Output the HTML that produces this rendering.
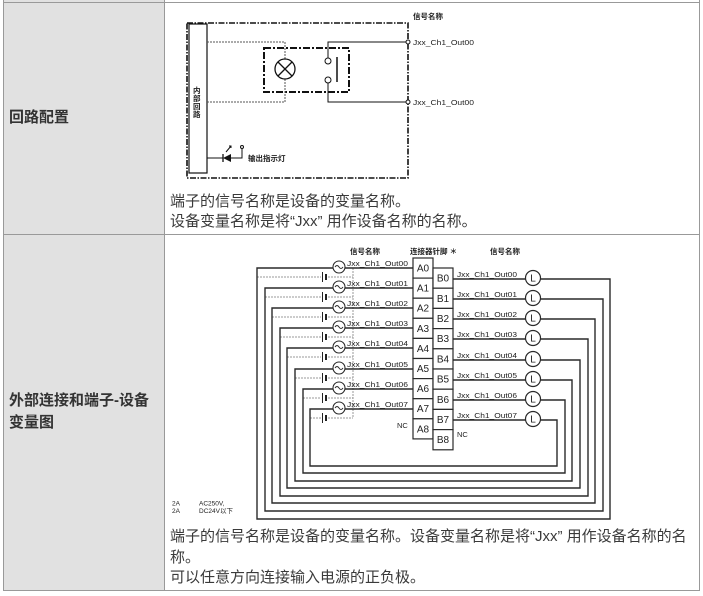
<!DOCTYPE html>
<html><head><meta charset="utf-8">
<style>
html,body{margin:0;padding:0;background:#fff;}
body{width:703px;height:596px;position:relative;overflow:hidden;font-family:"Liberation Sans","Noto Sans CJK SC",sans-serif;color:#333;}
.bg{position:absolute;left:3px;top:0;width:161px;height:590px;background:#e1e1e1;}
.hl{position:absolute;height:1px;background:#999;}
.vl{position:absolute;width:1px;background:#999;}
.t{position:absolute;white-space:nowrap;font-size:15px;line-height:20px;color:#3a3a3a;}
.b{font-weight:bold;color:#333;}
svg{position:absolute;left:0;top:0;}
</style></head><body>
<div class="bg"></div>
<div class="hl" style="left:3px;top:2px;width:697px"></div>
<div class="hl" style="left:3px;top:234px;width:697px"></div>
<div class="hl" style="left:3px;top:590px;width:697px"></div>
<div class="vl" style="left:3px;top:0;height:591px"></div>
<div class="vl" style="left:164px;top:0;height:591px"></div>
<div class="vl" style="left:699px;top:0;height:591px"></div>

<div class="t b" style="left:9px;top:108px;">回路配置</div>
<div class="t b" style="left:9px;top:390px;line-height:22px;">外部连接和端子-设备<br>变量图</div>

<div class="t" style="left:170px;top:192px;">端子的信号名称是设备的变量名称。</div>
<div class="t" style="left:170px;top:212px;">设备变量名称是将“Jxx” 用作设备名称的名称。</div>

<div class="t" style="left:170px;top:527px;">端子的信号名称是设备的变量名称。设备变量名称是将“Jxx” 用作设备名称的名</div>
<div class="t" style="left:170px;top:547.5px;">称。</div>
<div class="t" style="left:170px;top:568px;">可以任意方向连接输入电源的正负极。</div>

<svg width="703" height="596" viewBox="0 0 703 596" xmlns="http://www.w3.org/2000/svg" font-family="'Liberation Sans','Noto Sans CJK SC',sans-serif">
<!-- Diagram 1 -->
<g fill="none" stroke="#111">
  <rect x="187" y="23" width="221" height="155" stroke-width="1.6" stroke-dasharray="6 1.5 1.5 1.5"/>
  <rect x="189" y="24" width="18" height="149" stroke-width="1.2"/>
  <rect x="264" y="48" width="85" height="44" stroke-width="2" stroke-dasharray="7 2 2 2"/>
  <path d="M207 42 H285 V59 M285 79 V102 H207" stroke="#555" stroke-width="1" stroke-dasharray="2 1"/>
  <circle cx="285" cy="69" r="10" stroke-width="1.3"/>
  <path d="M278 62 L292 76 M292 62 L278 76" stroke-width="1.3"/>
  <circle cx="328" cy="61" r="3" stroke-width="1"/>
  <circle cx="328" cy="80" r="3" stroke-width="1"/>
  <path d="M337 57 V82" stroke-width="1.5"/>
  <path d="M328 58 V42 H406 M328 83 V102 H406" stroke-width="1"/>
  <circle cx="408" cy="42" r="2" stroke-width="1" fill="#fff"/>
  <circle cx="408" cy="102" r="2" stroke-width="1" fill="#fff"/>
  <path d="M207 158 H223 M231 158 H242 V149" stroke-width="1"/>
  <path d="M223 154 V162" stroke-width="1.3"/>
  <path d="M226 152 L231 146 M229 146 L231 146 L231 148" stroke-width="1"/>
  <circle cx="242" cy="147" r="1.5" stroke-width="1"/>
</g>
<polygon points="223,158 231,154 231,162" fill="#111"/>
<g font-size="7.5" fill="#222">
  <text x="193" y="93" font-weight="bold">内</text>
  <text x="193" y="101" font-weight="bold">部</text>
  <text x="193" y="109" font-weight="bold">回</text>
  <text x="193" y="117" font-weight="bold">路</text>
  <text x="413" y="19" font-weight="bold" font-size="7.5">信号名称</text>
  <text x="413" y="45" textLength="61" lengthAdjust="spacingAndGlyphs">Jxx_Ch1_Out00</text>
  <text x="413" y="105" textLength="61" lengthAdjust="spacingAndGlyphs">Jxx_Ch1_Out00</text>
  <text x="248" y="161" font-weight="bold">输出指示灯</text>
</g>

<!-- Diagram 2 -->
<g font-size="7.5" fill="#222" font-weight="bold">
  <text x="350" y="254">信号名称</text>
  <text x="410" y="254">连接器针脚 ＊</text>
  <text x="490" y="254">信号名称</text>
</g>
<!-- dotted DC alternative lines -->
<g fill="none" stroke="#999" stroke-width="1" stroke-dasharray="2 1">
  <path d="M353 268 V418"/>
  <path d="M257 277 H321 M328 277 H353"/>
  <path d="M265 297 H321 M328 297 H353"/>
  <path d="M272 317 H321 M328 317 H353"/>
  <path d="M280 337 H321 M328 337 H353"/>
  <path d="M287 357 H321 M328 357 H353"/>
  <path d="M295 378 H321 M328 378 H353"/>
  <path d="M303 398 H321 M328 398 H353"/>
  <path d="M310 418 H321 M328 418 H353"/>
</g>
<g fill="#222">
  <rect x="322" y="272" width="1" height="10"/><rect x="325" y="274" width="2" height="6"/>
  <rect x="322" y="292" width="1" height="10"/><rect x="325" y="294" width="2" height="6"/>
  <rect x="322" y="312" width="1" height="10"/><rect x="325" y="314" width="2" height="6"/>
  <rect x="322" y="332" width="1" height="10"/><rect x="325" y="334" width="2" height="6"/>
  <rect x="322" y="352" width="1" height="10"/><rect x="325" y="354" width="2" height="6"/>
  <rect x="322" y="373" width="1" height="10"/><rect x="325" y="375" width="2" height="6"/>
  <rect x="322" y="393" width="1" height="10"/><rect x="325" y="395" width="2" height="6"/>
  <rect x="322" y="413" width="1" height="10"/><rect x="325" y="415" width="2" height="6"/>
</g>
<!-- wires -->
<g fill="none" stroke="#2a2a2a" stroke-width="1.4">
  <path d="M413 268 H345 M333 268 H257 V519 H610 V279 H540.5 M525.5 279 H453"/>
  <path d="M413 288 H345 M333 288 H265 V511 H603 V299 H540.5 M525.5 299 H453"/>
  <path d="M413 308 H345 M333 308 H272 V503 H595 V319 H540.5 M525.5 319 H453"/>
  <path d="M413 328 H345 M333 328 H280 V496 H588 V339 H540.5 M525.5 339 H453"/>
  <path d="M413 348 H345 M333 348 H287 V488 H580 V360 H540.5 M525.5 360 H453"/>
  <path d="M413 369 H345 M333 369 H295 V481 H572 V380 H540.5 M525.5 380 H453"/>
  <path d="M413 389 H345 M333 389 H303 V473 H565 V400 H540.5 M525.5 400 H453"/>
  <path d="M413 409 H345 M333 409 H310 V466 H557 V420 H540.5 M525.5 420 H453"/>
</g>
<!-- AC source circles -->
<g fill="#fff" stroke="#2a2a2a" stroke-width="1.1">
  <circle cx="339" cy="267" r="6"/><circle cx="339" cy="287" r="6"/><circle cx="339" cy="307" r="6"/><circle cx="339" cy="327" r="6"/>
  <circle cx="339" cy="347" r="6"/><circle cx="339" cy="368" r="6"/><circle cx="339" cy="388" r="6"/><circle cx="339" cy="408" r="6"/>
</g>
<g fill="none" stroke="#2a2a2a" stroke-width="1">
  <path d="M335 267 q2 -3 4 0 t4 0"/><path d="M335 287 q2 -3 4 0 t4 0"/><path d="M335 307 q2 -3 4 0 t4 0"/><path d="M335 327 q2 -3 4 0 t4 0"/>
  <path d="M335 347 q2 -3 4 0 t4 0"/><path d="M335 368 q2 -3 4 0 t4 0"/><path d="M335 388 q2 -3 4 0 t4 0"/><path d="M335 408 q2 -3 4 0 t4 0"/>
</g>
<!-- L circles -->
<g fill="#fff" stroke="#2a2a2a" stroke-width="1.2">
  <circle cx="533" cy="278" r="7.5"/><circle cx="533" cy="298" r="7.5"/><circle cx="533" cy="318" r="7.5"/><circle cx="533" cy="338" r="7.5"/>
  <circle cx="533" cy="359" r="7.5"/><circle cx="533" cy="379" r="7.5"/><circle cx="533" cy="399" r="7.5"/><circle cx="533" cy="419" r="7.5"/>
</g>
<g font-size="10" fill="#222" text-anchor="middle">
  <text x="533" y="281.5">L</text><text x="533" y="301.5">L</text><text x="533" y="321.5">L</text><text x="533" y="341.5">L</text>
  <text x="533" y="362.5">L</text><text x="533" y="382.5">L</text><text x="533" y="402.5">L</text><text x="533" y="422.5">L</text>
</g>
<!-- connector boxes -->
<g fill="#fff" stroke="#2a2a2a" stroke-width="1.2">
  <rect x="413" y="258" width="20" height="20.1"/><rect x="413" y="278.1" width="20" height="20.1"/><rect x="413" y="298.2" width="20" height="20.1"/>
  <rect x="413" y="318.3" width="20" height="20.1"/><rect x="413" y="338.4" width="20" height="20.1"/><rect x="413" y="358.5" width="20" height="20.1"/>
  <rect x="413" y="378.6" width="20" height="20.1"/><rect x="413" y="398.7" width="20" height="20.1"/><rect x="413" y="418.8" width="20" height="20.1"/>
  <rect x="433" y="268" width="20" height="20.2"/><rect x="433" y="288.2" width="20" height="20.2"/><rect x="433" y="308.4" width="20" height="20.2"/>
  <rect x="433" y="328.6" width="20" height="20.2"/><rect x="433" y="348.8" width="20" height="20.2"/><rect x="433" y="369" width="20" height="20.2"/>
  <rect x="433" y="389.2" width="20" height="20.2"/><rect x="433" y="409.4" width="20" height="20.2"/><rect x="433" y="429.6" width="20" height="20.2"/>
</g>
<g font-size="10" fill="#222" text-anchor="middle">
  <text x="423" y="271.5">A0</text><text x="423" y="291.6">A1</text><text x="423" y="311.7">A2</text><text x="423" y="331.8">A3</text>
  <text x="423" y="351.9">A4</text><text x="423" y="372">A5</text><text x="423" y="392.1">A6</text><text x="423" y="412.2">A7</text><text x="423" y="432.3">A8</text>
  <text x="443" y="281.6">B0</text><text x="443" y="301.8">B1</text><text x="443" y="322">B2</text><text x="443" y="342.2">B3</text>
  <text x="443" y="362.4">B4</text><text x="443" y="382.6">B5</text><text x="443" y="402.8">B6</text><text x="443" y="423">B7</text><text x="443" y="443.2">B8</text>
</g>
<g font-size="7.5" fill="#222">
  <text x="347" y="266" textLength="61" lengthAdjust="spacingAndGlyphs">Jxx_Ch1_Out00</text>
  <text x="347" y="286" textLength="61" lengthAdjust="spacingAndGlyphs">Jxx_Ch1_Out01</text>
  <text x="347" y="306" textLength="61" lengthAdjust="spacingAndGlyphs">Jxx_Ch1_Out02</text>
  <text x="347" y="326" textLength="61" lengthAdjust="spacingAndGlyphs">Jxx_Ch1_Out03</text>
  <text x="347" y="346" textLength="61" lengthAdjust="spacingAndGlyphs">Jxx_Ch1_Out04</text>
  <text x="347" y="367" textLength="61" lengthAdjust="spacingAndGlyphs">Jxx_Ch1_Out05</text>
  <text x="347" y="387" textLength="61" lengthAdjust="spacingAndGlyphs">Jxx_Ch1_Out06</text>
  <text x="347" y="407" textLength="61" lengthAdjust="spacingAndGlyphs">Jxx_Ch1_Out07</text>
  <text x="457" y="277" textLength="60" lengthAdjust="spacingAndGlyphs">Jxx_Ch1_Out00</text>
  <text x="457" y="297" textLength="60" lengthAdjust="spacingAndGlyphs">Jxx_Ch1_Out01</text>
  <text x="457" y="317" textLength="60" lengthAdjust="spacingAndGlyphs">Jxx_Ch1_Out02</text>
  <text x="457" y="337" textLength="60" lengthAdjust="spacingAndGlyphs">Jxx_Ch1_Out03</text>
  <text x="457" y="358" textLength="60" lengthAdjust="spacingAndGlyphs">Jxx_Ch1_Out04</text>
  <text x="457" y="378" textLength="60" lengthAdjust="spacingAndGlyphs">Jxx_Ch1_Out05</text>
  <text x="457" y="398" textLength="60" lengthAdjust="spacingAndGlyphs">Jxx_Ch1_Out06</text>
  <text x="457" y="418" textLength="60" lengthAdjust="spacingAndGlyphs">Jxx_Ch1_Out07</text>
  <text x="397" y="428">NC</text>
  <text x="457" y="437">NC</text>
</g>
<g font-size="6.5" fill="#222">
  <text x="172" y="505.5">2A</text><text x="199" y="505.5">AC250V,</text>
  <text x="172" y="513">2A</text><text x="199" y="513">DC24V以下</text>
</g>
</svg>
</body></html>
